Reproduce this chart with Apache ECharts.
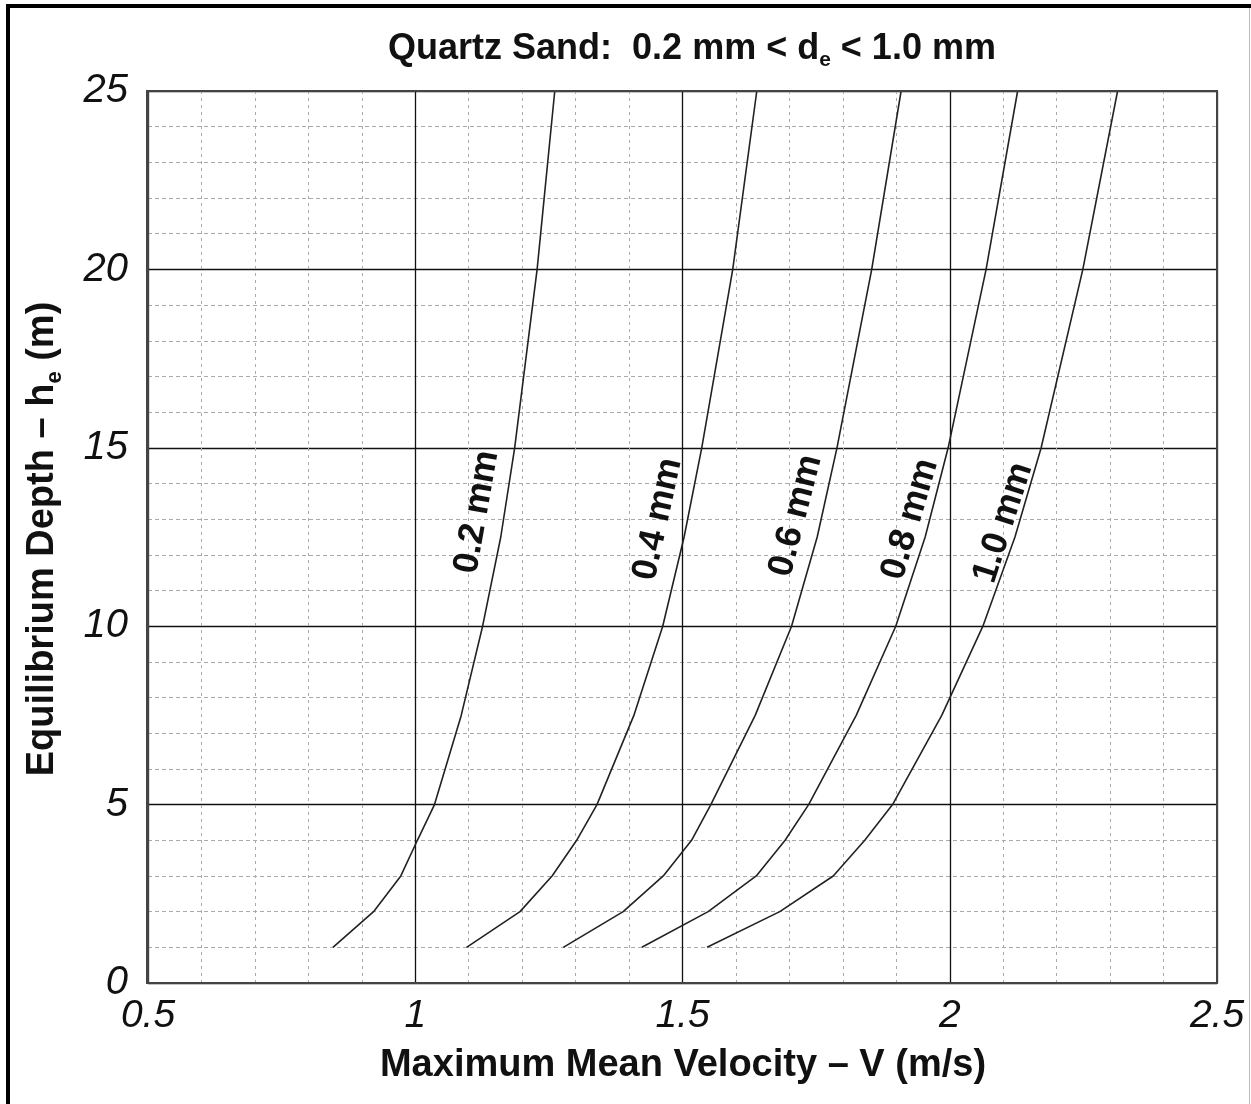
<!DOCTYPE html>
<html>
<head>
<meta charset="utf-8">
<script src="https://cdn.jsdelivr.net/npm/echarts@6/dist/echarts.min.js"></script>
<style>
  html, body { margin: 0; padding: 0; background: #fff; }
  #chart { width: 1251px; height: 1104px; }
</style>
</head>
<body>
<div id="chart"></div>
<script>
// equilibrium depth (m) where the curves were read
const depths = [1, 2, 3, 4, 5, 7.5, 10, 12.5, 15, 20, 25];

// maximum mean velocity (m/s) for each grain size
const v02 = [0.846, 0.922, 0.973, 1.004, 1.036, 1.086, 1.126, 1.160, 1.186, 1.228, 1.261];
const v04 = [1.096, 1.196, 1.256, 1.302, 1.340, 1.409, 1.463, 1.503, 1.536, 1.594, 1.639];
const v06 = [1.277, 1.389, 1.464, 1.517, 1.553, 1.636, 1.704, 1.752, 1.789, 1.854, 1.909];
const v08 = [1.424, 1.548, 1.638, 1.692, 1.736, 1.825, 1.899, 1.954, 1.997, 2.068, 2.127];
const v10 = [1.546, 1.682, 1.782, 1.841, 1.893, 1.985, 2.062, 2.122, 2.171, 2.249, 2.314];

const curveNames = ['0.2 mm', '0.4 mm', '0.6 mm', '0.8 mm', '1.0 mm'];
const curves = [v02, v04, v06, v08, v10];
// where each label sits (velocity, depth) and its tilt in degrees
const labelAt = [[1.1155, 13.2], [1.454, 13.0], [1.712, 13.1], [1.926, 13.0], [2.100, 12.9]];
const labelTilt = [80, 77.5, 75.5, 73.5, 72];

const xTicks = [0.5, 1, 1.5, 2, 2.5];

const font = '"Liberation Sans", Arial, Helvetica, sans-serif';

const chart = echarts.init(document.getElementById('chart'));

const option = {
  backgroundColor: '#fff',
  animation: false,
  grid: { left: 148, right: 34, top: 91, bottom: 121, show: false },
  xAxis: {
    type: 'value',
    min: 0.5, max: 2.5, interval: 0.5,
    axisLine: { show: true, onZero: false, lineStyle: { color: '#444', width: 2 } },
    axisTick: { show: false },
    axisLabel: {
      margin: 14, fontSize: 39, fontStyle: 'italic', color: '#111', fontFamily: font,
      formatter: v => xTicks.includes(v) ? String(v) : ''
    },
    splitLine: { show: true, lineStyle: { color: '#111', width: 1.3 } },
    minorTick: { show: false, splitNumber: 5 },
    minorSplitLine: { show: true, lineStyle: { color: '#aaa', width: 1, type: [3, 4] } }
  },
  yAxis: {
    type: 'value',
    min: 0, max: 25, interval: 5,
    axisLine: { show: true, onZero: false, lineStyle: { color: '#444', width: 2 } },
    axisTick: { show: false },
    axisLabel: { margin: 20, fontSize: 40, fontStyle: 'italic', color: '#111', fontFamily: font },
    splitLine: { show: true, lineStyle: { color: '#111', width: 1.3 } },
    minorTick: { show: false, splitNumber: 5 },
    minorSplitLine: { show: true, lineStyle: { color: '#aaa', width: 1, type: [4, 3] } }
  },
  series: curves.map((vals, i) => ({
    name: curveNames[i],
    type: 'line',
    data: vals.map((v, k) => [v, depths[k]]),
    showSymbol: false,
    lineStyle: { color: '#222', width: 1.6 },
    z: 5
  }))
};

chart.setOption(option);

const richTitle = {
  a: { fontSize: 36, fontWeight: 'bold', fontFamily: font, fill: '#111', lineHeight: 44 },
  s: { fontSize: 21, fontWeight: 'bold', fontFamily: font, fill: '#111', lineHeight: 21, verticalAlign: 'bottom' }
};
const richYName = {
  a: { fontSize: 38, fontWeight: 'bold', fontFamily: font, fill: '#111', lineHeight: 46 },
  s: { fontSize: 22, fontWeight: 'bold', fontFamily: font, fill: '#111', lineHeight: 22, verticalAlign: 'bottom' }
};

// frame lines + texts
const graphics = [
  { type: 'rect', shape: { x: 147, y: 91, width: 1070, height: 892 },
    style: { fill: 'none', stroke: '#444', lineWidth: 2 }, z: 10 },
  { type: 'line', shape: { x1: 6, y1: 6, x2: 1251, y2: 6 }, style: { stroke: '#000', lineWidth: 4 }, z: 10 },
  { type: 'line', shape: { x1: 8, y1: 4, x2: 8, y2: 1104 }, style: { stroke: '#000', lineWidth: 4 }, z: 10 },
  { type: 'line', shape: { x1: 1249.5, y1: 8, x2: 1249.5, y2: 1104 }, style: { stroke: '#bbb', lineWidth: 1 }, z: 10 },
  {
    type: 'text', x: 692, y: 49, z: 10,
    style: {
      text: '{a|Quartz Sand:  0.2 mm < d}{s|e}{a| < 1.0 mm}',
      align: 'center', verticalAlign: 'middle', rich: richTitle
    }
  },
  {
    type: 'text', x: 683, y: 1066, z: 10,
    style: {
      text: 'Maximum Mean Velocity – V (m/s)',
      align: 'center', verticalAlign: 'middle',
      fontSize: 38, fontWeight: 'bold', fontFamily: font, fill: '#111'
    }
  },
  {
    type: 'text', x: 43, y: 539, rotation: Math.PI / 2, z: 10,
    style: {
      text: '{a|Equilibrium Depth – h}{s|e}{a| (m)}',
      align: 'center', verticalAlign: 'middle', rich: richYName
    }
  }
];

curveNames.forEach((name, i) => {
  const p = chart.convertToPixel({ gridIndex: 0 }, labelAt[i]);
  graphics.push({
    type: 'text', x: p[0], y: p[1], z: 10,
    rotation: labelTilt[i] * Math.PI / 180,
    style: {
      text: name, align: 'center', verticalAlign: 'middle',
      fontSize: 36, fontWeight: 'bold', fontFamily: font, fill: '#111'
    }
  });
});

chart.setOption({ graphic: graphics });

window.addEventListener('resize', () => chart.resize());
</script>
</body>
</html>
